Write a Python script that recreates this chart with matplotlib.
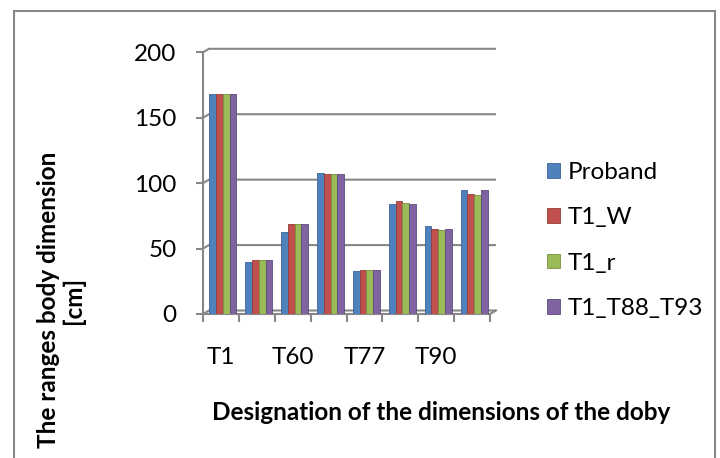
import numpy as np
import matplotlib.pyplot as plt
from matplotlib.patches import Rectangle

plt.rcParams['font.family'] = ['Lato', 'DejaVu Sans']

# data (8 dimensions, only every second one is labelled)
categories = ["T1", "", "T60", "", "T77", "", "T90", ""]
series = ["Proband", "T1_W", "T1_r", "T1_T88_T93"]
proband = [168, 40, 63, 108, 33, 84, 67, 95]
t1_w = [168, 41, 69, 107, 34, 86, 65, 92]
t1_r = [168, 41, 69, 107, 33.5, 85, 64, 91]
t1_t88_t93 = [168, 41, 69, 107, 33.5, 84, 65, 95]
yticks = [0, 50, 100, 150, 200]

colors = ["#4F81BD", "#C0504D", "#9BBB59", "#8064A2"]
edges = ["#3A6496", "#963B38", "#76923F", "#5F4A7B"]
grey = "#878787"
fs = 17.5

fig = plt.figure(figsize=(7.2, 4.58), dpi=100)
ax = fig.add_axes([203 / 720, 1 - 314 / 458, 287 / 720, (314 - 52.3) / 458])
n = len(categories)
x0, x1 = -0.5, n - 0.5
ax.set_xlim(x0, x1)
ax.set_ylim(0, 200)
for s in ax.spines.values():
    s.set_visible(False)

# pseudo 3d offsets of the back wall (6 px right, 3.5 px up)
dx = 6 / (287 / n)
dy = 3.5 / ((314 - 52.3) / 200)

for v in yticks:
    ax.plot([x0, x0 + dx, x1 + dx], [v, v + dy, v + dy], color=grey, lw=1.5,
            clip_on=False, zorder=1, solid_capstyle="butt")
ax.plot([x0, x0], [0, 200], color=grey, lw=1.5, clip_on=False, zorder=1)
ax.plot([x0, x1, x1 + dx], [0, 0, dy], color=grey, lw=1.5, clip_on=False, zorder=1)

# bars
x = np.arange(n)
bw = 0.75 / 4
shift = 2 / (287 / n)
for i, vals in enumerate([proband, t1_w, t1_r, t1_t88_t93]):
    ax.bar(x + shift + (i - 1.5) * bw, vals, width=bw, color=colors[i],
           edgecolor=edges[i], linewidth=0.6, label=series[i], zorder=3)

ax.set_yticks(yticks)
ax.set_yticklabels([str(t) for t in yticks], fontsize=fs)
ax.tick_params(axis="y", length=5, width=1.5, color=grey, pad=14)

lab_pos = [i for i, c in enumerate(categories) if c]
ax.set_xticks(lab_pos)
ax.set_xticklabels([categories[i] for i in lab_pos], fontsize=fs)
ax.set_xticks(np.arange(n + 1) - 0.5, minor=True)
ax.tick_params(axis="x", which="major", length=0, pad=24)
ax.tick_params(axis="x", which="minor", length=6, width=1.5, color=grey)

fig.text(61 / 720, 1 - 300 / 458, "The ranges body dimension\n[cm]", rotation=90,
         ha="center", va="center", fontsize=fs, fontweight="bold",
         multialignment="center", linespacing=1.1)
fig.text(441 / 720, 1 - 413 / 458, "Designation of the dimensions of the doby",
         ha="center", va="center", fontsize=fs, fontweight="bold")

ax.legend(loc="upper left", bbox_to_anchor=(530 / 720, 1 - 145 / 458),
          bbox_transform=fig.transFigure, frameon=False, fontsize=fs,
          handlelength=0.55, handleheight=0.55, handletextpad=0.3,
          labelspacing=1.0, borderpad=0.2)

fig.add_artist(Rectangle((14 / 720, -0.1), (715 - 14) / 720, 1.1 - 11 / 458,
                         transform=fig.transFigure, fill=False,
                         edgecolor=grey, lw=1.5))

fig.savefig("out.png", dpi=100)
